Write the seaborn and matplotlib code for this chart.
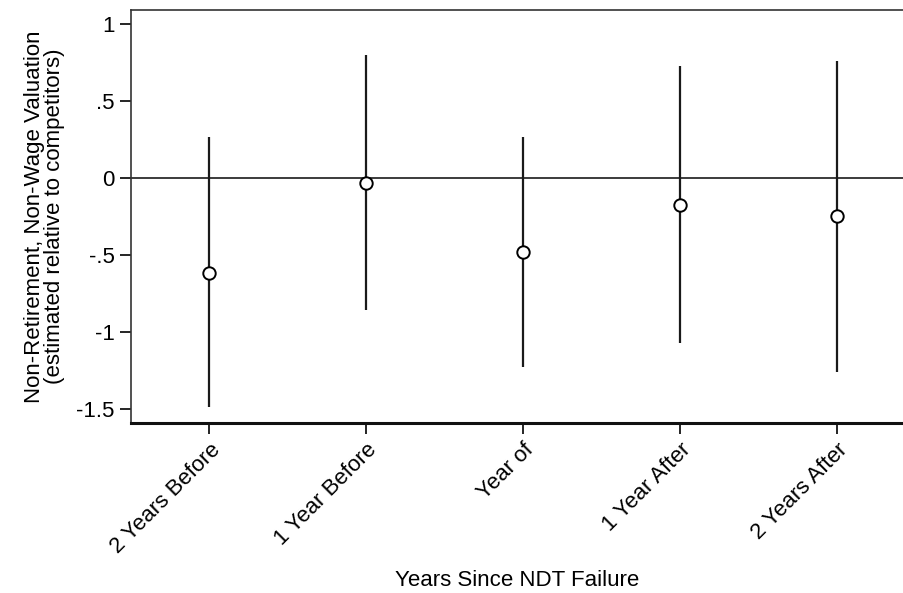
import numpy as np
import pandas as pd
import matplotlib
matplotlib.use('Agg')
import matplotlib.pyplot as plt
import seaborn as sns

# Estimates and 95% CIs
periods = ['2 Years Before', '1 Year Before', 'Year of', '1 Year After', '2 Years After']
estimate = [-0.62, -0.03, -0.48, -0.175, -0.25]
ci_low = [-1.49, -0.86, -1.225, -1.07, -1.26]
ci_high = [0.265, 0.80, 0.265, 0.725, 0.76]

df = pd.DataFrame({'period': periods, 'estimate': estimate,
                   'lo': ci_low, 'hi': ci_high})

sns.set_style('white')
plt.rcParams['font.family'] = ['Liberation Sans', 'DejaVu Sans']
plt.rcParams['text.color'] = 'black'
plt.rcParams['axes.labelcolor'] = 'black'
plt.rcParams['xtick.color'] = 'black'
plt.rcParams['ytick.color'] = 'black'

fig = plt.figure(figsize=(9.04, 5.93), dpi=100)
ax = fig.add_axes([0.145, 0.287, 0.855, 0.696])

# Confidence intervals as vertical spikes
ax.vlines(np.arange(len(df)), df['lo'], df['hi'], color='#1a1a1a', lw=1.6, zorder=2)
ax.axhline(0, color='#1a1a1a', lw=1.2, zorder=1)

sns.scatterplot(data=df, x='period', y='estimate', ax=ax, marker='o', s=80,
                facecolor='white', edgecolor='black', linewidth=1.4, zorder=3)

ax.set_xlim(-0.5, 4.43)
ax.set_ylim(-1.59, 1.09)
ax.set_yticks([1, 0.5, 0, -0.5, -1, -1.5])
ax.set_yticklabels(['1', '.5', '0', '-.5', '-1', '-1.5'], fontsize=16)
ax.set_xticks(range(len(periods)))
ax.set_xticklabels(periods, rotation=45, ha='right', rotation_mode='anchor', fontsize=16)
ax.tick_params(axis='both', length=8, width=1.2, direction='out',
               bottom=True, left=True, pad=4)

ax.set_ylabel('Non-Retirement, Non-Wage Valuation\n(estimated relative to competitors)',
              fontsize=16, linespacing=0.95, labelpad=8)
ax.set_xlabel('Years Since NDT Failure', fontsize=16, labelpad=9)

for side in ['top', 'left', 'right']:
    ax.spines[side].set_color('#333333')
    ax.spines[side].set_linewidth(1.2)
ax.spines['bottom'].set_color('#111111')
ax.spines['bottom'].set_linewidth(2.2)
ax.spines['right'].set_visible(False)

fig.savefig('out.png', dpi=100)
